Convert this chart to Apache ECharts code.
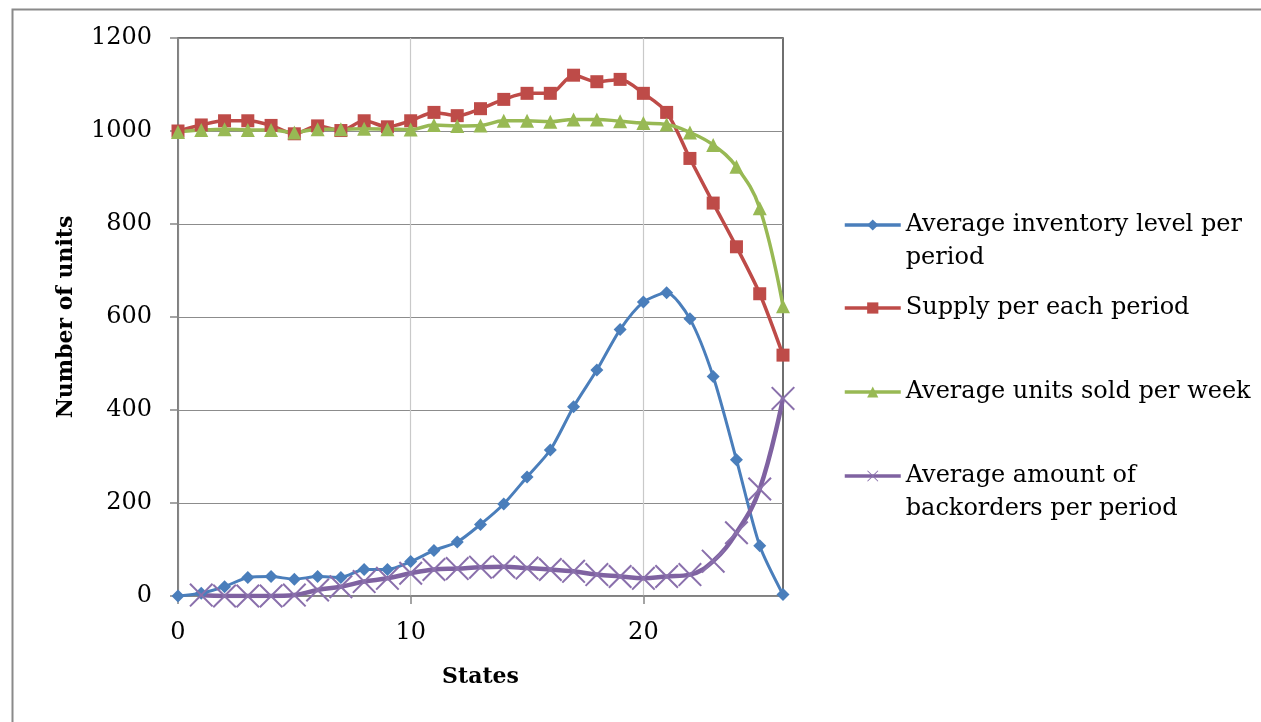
<!DOCTYPE html>
<html>
<head>
<meta charset="utf-8">
<script src="https://cdn.jsdelivr.net/npm/echarts@6/dist/echarts.min.js"></script>
<style>
html,body{margin:0;padding:0;background:#fff;}
#chart{width:1261px;height:722px;}
</style>
</head>
<body>
<div id="chart"></div>
<script>
const states = [0,1,2,3,4,5,6,7,8,9,10,11,12,13,14,15,16,17,18,19,20,21,22,23,24,25,26];
const inventory = [0,6,20,40,42,36,42,40,57,57,74,98,116,154,198,256,314,407,486,573,632,652,596,472,293,108,3];
const supply = [1000,1013,1022,1022,1012,994,1011,1001,1022,1009,1022,1040,1033,1048,1068,1081,1081,1120,1106,1111,1081,1040,941,845,751,650,518];
const sold = [998,1002,1004,1002,1002,997,1004,1004,1005,1004,1003,1013,1011,1012,1022,1022,1020,1025,1025,1021,1017,1014,997,970,923,834,623];
const backorders = [null,2,0,0,0,2,13,20,31,38,49,57,59,62,63,60,57,53,46,42,38,42,46,75,136,230,425];
const seriesNames = ['Average inventory level per period','Supply per each period','Average units sold per week','Average amount of backorders per period'];
const legendLabels = ['Average inventory level per\nperiod','Supply per each period','Average units sold per week','Average amount of\nbackorders per period'];
const xLabelValues = [0,10,20];

const FONT = 'DejaVu Serif';
const crossPath = 'path://M0,6 L6,0 L50,44 L94,0 L100,6 L56,50 L100,94 L94,100 L50,56 L6,100 L0,94 L44,50 Z';

function pairs(vals){ return states.map((s,i)=>[s, vals[i]]); }

const chart = echarts.init(document.getElementById('chart'), null, {renderer:'canvas'});

const legendTops = [225, 308, 392, 476];
const LH = 33;
const legends = seriesNames.map((n,i)=>{
  const twoLine = legendLabels[i].indexOf('\n') >= 0;
  return {
    data:[n],
    left: 843,
    top: twoLine ? legendTops[i] - LH*1.5 : legendTops[i] - LH/2,
    padding: 0,
    itemWidth: 56,
    itemHeight: 14,
    itemGap: 0,
    selectedMode: false,
    lineStyle: { width: 3.5 },
    formatter: function(){ return twoLine ? ' \n' + legendLabels[i] : legendLabels[i]; },
    textStyle: { fontFamily: FONT, fontSize: 24, color:'#000', lineHeight: LH }
  };
});

chart.setOption({
  animation:false,
  backgroundColor:'#fff',
  graphic:[{
    type:'rect', left:10, top:7, silent:true,
    shape:{x:0,y:0,width:1300,height:800},
    style:{fill:'none', stroke:'#8a8a8a', lineWidth:2}
  }],
  legend: legends,
  grid:{
    left:178, top:38, width:605, height:558,
    show:true, borderColor:'#404040', borderWidth:1.5, backgroundColor:'transparent'
  },
  xAxis:{
    type:'value', min:0, max:26, interval:2,
    name:'States', nameLocation:'middle', nameGap:70,
    nameTextStyle:{fontFamily:FONT, fontWeight:'bold', fontSize:22, color:'#000'},
    axisLine:{show:true, onZero:false, lineStyle:{color:'#868686', width:1.5}},
    axisTick:{show:true, inside:false, length:8, customValues:xLabelValues, lineStyle:{color:'#868686', width:1.5}},
    axisLabel:{customValues:xLabelValues, fontFamily:FONT, fontSize:24, color:'#000', margin:25},
    splitLine:{show:true, lineStyle:{color:['#8c8c8c','#c9c9c9','#c9c9c9','#c9c9c9','#c9c9c9'], width:1.2}}
  },
  yAxis:{
    type:'value', min:0, max:1200, interval:200,
    name:'Number of units', nameLocation:'middle', nameGap:101, nameRotate:90,
    nameTextStyle:{fontFamily:FONT, fontWeight:'bold', fontSize:22, color:'#000'},
    axisLine:{show:true, lineStyle:{color:'#868686', width:1.5}},
    axisTick:{show:true, inside:false, length:8, lineStyle:{color:'#868686', width:1.5}},
    axisLabel:{fontFamily:FONT, fontSize:24, color:'#000', margin:26, formatter: v => String(v)},
    splitLine:{show:true, lineStyle:{color:'#8c8c8c', width:1.2}}
  },
  series:[
    {
      name:seriesNames[0], type:'line', data:pairs(inventory), smooth:0.25,
      symbol:'diamond', symbolSize:13,
      lineStyle:{color:'#4A7EBB', width:3},
      itemStyle:{color:'#4A7EBB', borderWidth:0}
    },
    {
      name:seriesNames[1], type:'line', data:pairs(supply), smooth:0.3,
      symbol:'rect', symbolSize:13,
      lineStyle:{color:'#BE4B48', width:3.5},
      itemStyle:{color:'#BE4B48', borderWidth:0}
    },
    {
      name:seriesNames[2], type:'line', data:pairs(sold), smooth:0.4,
      symbol:'triangle', symbolSize:14,
      lineStyle:{color:'#98B954', width:3.5},
      itemStyle:{color:'#98B954', borderWidth:0}
    },
    {
      name:seriesNames[3], type:'line', data:pairs(backorders), smooth:0.4,
      symbol:crossPath, symbolSize:24, connectNulls:false,
      lineStyle:{color:'#7F62A1', width:4.5},
      itemStyle:{color:'#8A70AC', borderWidth:0}
    }
  ]
});
</script>
</body>
</html>
